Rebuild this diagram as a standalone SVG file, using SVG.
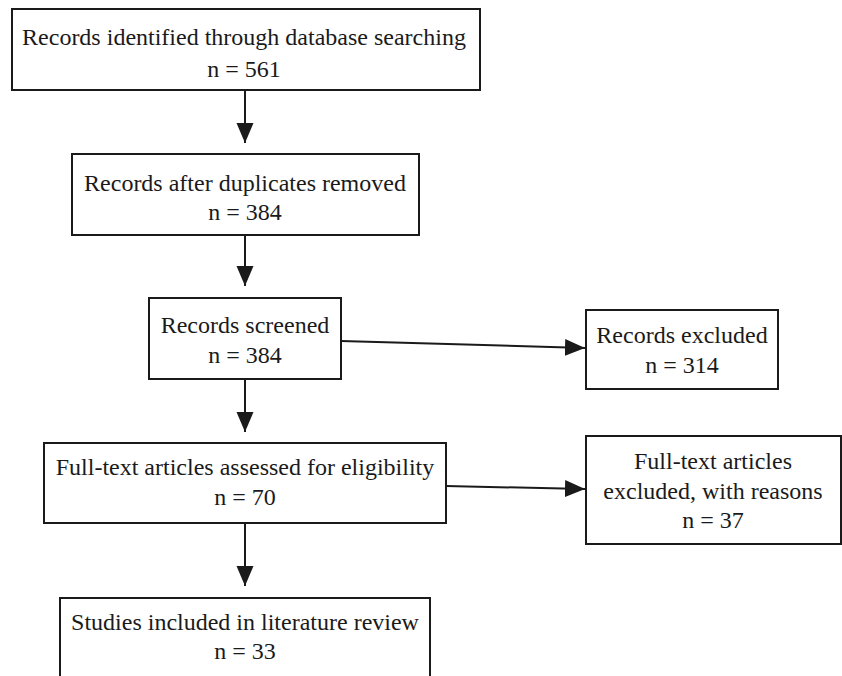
<svg xmlns="http://www.w3.org/2000/svg" width="842" height="676" viewBox="0 0 842 676">
<style>
.box{fill:#fff;stroke:#1a1a1a;stroke-width:2}
.t{font-family:'Liberation Serif','Times New Roman',serif;font-size:24px;fill:#1a1a1a;text-anchor:middle}
.c{stroke:#1a1a1a;stroke-width:2;fill:none;marker-end:url(#ah)}
</style>
<defs>
<marker id="ah" markerUnits="userSpaceOnUse" markerWidth="20" markerHeight="18" refX="20" refY="8.5" orient="auto" viewBox="0 0 20 17">
<path d="M0,0 L20,8.5 L0,17 z" fill="#1a1a1a"/>
</marker>
</defs>
<rect width="842" height="676" fill="#fff"/>
<g id="connectors">
<line class="c" x1="245" y1="90" x2="245" y2="143"/>
<line class="c" x1="245" y1="235" x2="245" y2="286"/>
<line class="c" x1="245" y1="379" x2="245" y2="432"/>
<line class="c" x1="245" y1="523" x2="245" y2="586"/>
<line class="c" x1="341" y1="341" x2="585" y2="348"/>
<line class="c" x1="446" y1="486" x2="585" y2="489"/>
</g>
<g id="n1">
<rect class="box" x="12" y="9" width="468" height="81"/>
<text class="t" x="244" y="45">Records identified through database searching</text>
<text class="t" x="244" y="77">n = 561</text>
</g>
<g id="n2">
<rect class="box" x="72" y="154" width="347" height="81"/>
<text class="t" x="245" y="191">Records after duplicates removed</text>
<text class="t" x="245" y="220">n = 384</text>
</g>
<g id="n3">
<rect class="box" x="149" y="298" width="192" height="81"/>
<text class="t" x="245" y="333">Records screened</text>
<text class="t" x="245" y="363">n = 384</text>
</g>
<g id="n4">
<rect class="box" x="586" y="310" width="192" height="79"/>
<text class="t" x="682" y="343">Records excluded</text>
<text class="t" x="682" y="373">n = 314</text>
</g>
<g id="n5">
<rect class="box" x="44" y="443" width="402" height="80"/>
<text class="t" x="245" y="475">Full-text articles assessed for eligibility</text>
<text class="t" x="245" y="505">n = 70</text>
</g>
<g id="n6">
<rect class="box" x="586" y="436" width="255" height="108"/>
<text class="t" x="713" y="469">Full-text articles</text>
<text class="t" x="713" y="499">excluded, with reasons</text>
<text class="t" x="713" y="528">n = 37</text>
</g>
<g id="n7">
<rect class="box" x="60" y="598" width="370" height="90"/>
<text class="t" x="245" y="630">Studies included in literature review</text>
<text class="t" x="245" y="659">n = 33</text>
</g>
</svg>
